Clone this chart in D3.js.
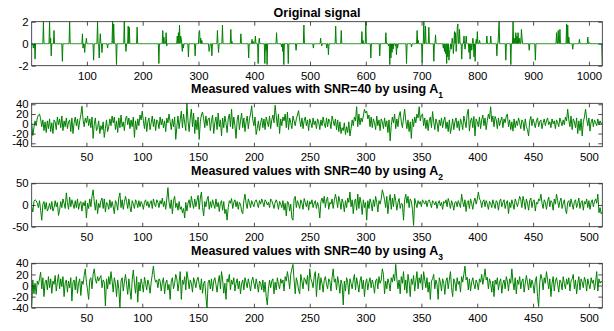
<!DOCTYPE html>
<html>
<head>
<meta charset="utf-8">
<script src="https://cdn.jsdelivr.net/npm/d3@7"></script>
<style>
body { margin: 0; background: #fff; }
svg { display: block; }
text { font-family: "Liberation Sans", Arial, Helvetica, sans-serif; fill: #000; }
</style>
</head>
<body>
<div id="chart"></div>
<script>
// original sparse signal: positions and values of the non-zero entries (length 1024)
var signalLength = 1024;
var spikeIdx = [4, 7, 22, 33, 35, 36, 41, 56, 69, 92, 93, 96, 99, 112, 119, 122, 124, 127, 137, 146, 148, 153, 167, 170, 174, 176, 190,
    229, 236, 238, 242, 243, 262, 264, 266, 268, 269, 271, 273, 282, 294, 301, 302, 304, 306, 319, 320, 324, 334, 336, 343, 358, 360, 376, 390, 396, 398,
    402, 407, 409, 419, 421, 423, 440, 449, 451, 453, 461, 475, 489, 506, 519, 521, 530, 533, 546, 556, 593, 595,
    600, 609, 625, 636, 641, 643, 645, 647, 649, 653, 655, 657, 673, 682, 692, 694,
    701, 704, 707, 713, 722, 725, 739, 741, 743, 745, 747, 749, 750, 751, 753, 755, 757, 759, 761, 762, 764, 765, 768, 772, 776, 778, 780, 785, 787, 790, 792, 794, 796, 798,
    800, 804, 817, 824, 835, 838, 839, 851, 860, 864, 866, 869, 871, 873, 876, 879, 880, 893,
    904, 942, 945, 948, 960, 962, 964, 971, 983, 998, 1001, 1024];
var spikeVal = [-0.4, -1.4, 2, 2, 0.5, -1.1, 1.2, -1.6, 2, 0.9, -0.4, -0.8, 0.5, -1.5, 2, -1.3, 0.9, -0.8, -0.4, 2, 1.8, -1.9, 2, -0.7, 1.6, 1.5, 1.5,
    -1.8, 1.2, 0.6, 1.0, -0.2, 0.7, 1.0, 1.7, 0.7, 0.5, -0.7, -0.4, -1.2, -1.1, 1.1, 1.2, 0.5, 0.3, -0.7, -0.5, -1.1, 1.2, -0.8, 1.7, 1.3, 0.2, 0.9, -1.3, 0.4, 0.2,
    0.7, -1.8, 0.5, -1.8, -0.6, -1.9, 1.0, -0.3, -0.7, -1.9, -1.8, -0.6, 1.7, -0.4, 0.5, -0.2, -0.4, -1.0, 1.6, 1.2, 1.1, 0.3,
    2, -1.3, -1.1, 1.0, -0.2, -1.9, -1.3, -0.8, -0.5, -0.2, -1.0, -0.4, -1.8, -0.3, 1.2, 0.3,
    -1.7, 2, 1.6, 1.5, -1.6, 0.8, -0.4, -0.7, -0.9, -1.8, -1.2, -1.5, -0.9, -0.5, -0.5, 0.5, -0.9, 1.1, 1.0, -0.7, 1.5, 1.8, 1.3, -1.4, 0.7, -0.5, 0.7, -0.8, -1.4, -0.6, 0.5, -1.2, -1.6, 0.4,
    1.1, 0.3, 0.7, 0.7, -1.1, 1.0, 2, -1.5, -1.9, 2, 0.5, 1.0, 0.7, 1.0, 0.5, 1.3, 0.6, -0.6,
    -1.5, 1.0, 1.2, 1.3, 1.8, 1.7, 0.6, -0.5, 0.4, 0.6, 0.1, -2];

// measured values (length 512) for the three sensing matrices
var measuredA1 = [
    0, -24, -8, 6, -4, 12, 18, 20, 10, -6, 8, -14, 4, -18, 6, -10,
    10, -16, 2, -20, 8, 4, -12, 14, -2, 10, -8, 16, -14, 6, -6, 12,
    -10, 4, 8, -16, 12, -20, 2, 14, -4, 10, -12, 6, 18, 36, 8, -6,
    12, 2, 16, -4, 10, -8, 14, -30, -2, 12, -14, -8, 6, -20, -4, -12,
    4, -28, -10, 8, -16, -6, 10, -4, 16, 2, 14, -12, 6, -18, 12, -8,
    18, -6, 4, -14, 10, 16, -2, 12, -10, 8, -6, 14, -28, 6, -12, 10,
    -4, 18, 8, 26, 6, -10, 14, -16, 4, 12, -12, 2, 16, -6, 10, -14,
    8, 4, -10, 14, -2, 10, -8, 6, -16, 12, 2, 20, 4, -12, 10, -6,
    14, -32, -6, 16, -10, 8, 26, -8, 20, 2, -14, 42, 6, -16, 12, 30,
    -6, 22, -20, 8, -12, 14, -32, 4, 18, 24, 10, -8, 16, -4, 10, 12,
    -14, 6, 18, -20, 2, 14, -12, 22, -6, 8, -25, 12, -8, 16, 2, -18,
    10, 20, -6, 30, -10, 14, -4, -30, 8, 18, -12, 6, 22, -8, 12, -16,
    4, 16, -10, 10, 20, 37, 8, -4, 14, -22, -10, 6, -14, 2, 12, -8,
    10, -12, 14, 4, -6, 16, -10, 8, 18, 2, 38, 16, -6, 20, -20, 10,
    -4, 14, 6, 20, -8, 24, -12, 12, 2, -10, 16, 6, -4, 10, 18, 27,
    8, -6, 12, -10, 6, 14, -4, 8, -14, 10, 2, -8, 12, -2, 6, -10,
    10, 4, -12, 8, -4, 14, 0, -8, 12, -6, 10, 4, -10, 16, 6, -4,
    10, -12, 8, -16, 4, -20, -8, -14, 2, -22, -6, -18, 4, -25, -10, 8,
    -4, 14, 6, 35, -6, 20, -2, 12, 4, 16, 30, 22, 26, 10, 18, -6,
    14, -8, 10, 2, -12, 16, -4, 8, -14, 10, 4, -10, 12, -6, 6, -18,
    8, -35, -4, 14, 2, 20, -10, 10, -6, 16, 25, 4, -8, 12, 30, 6,
    -10, 8, -16, 4, -30, 10, -6, 14, 2, 20, 12, 35, 6, 18, 20, -4,
    12, -10, 8, -14, 6, 14, -8, 25, 4, -12, 10, 2, -16, 8, -4, 12,
    -8, 6, 14, -10, 4, -16, 8, -20, -6, 10, -12, 4, 12, -8, 6, -14,
    10, 2, -12, 16, 4, -8, 20, 30, -15, 6, 12, -8, 15, -25, 10, 4,
    -6, 14, -10, 8, 18, -4, 12, -12, 6, 20, 10, 35, 4, 16, -6, 15,
    8, -10, 12, -4, 6, 14, -8, 10, 2, 16, 20, -6, 8, -12, 4, -15,
    10, -8, 6, -4, 12, 2, -10, 8, 4, -14, 10, -6, -12, -25, 6, 15,
    -4, 10, 2, -8, 6, 12, -6, 4, 8, -10, 2, 10, -4, 6, 12, -2,
    4, -8, 10, 0, 6, -10, 8, 2, -6, 12, 4, -4, 8, -2, 14, 6,
    30, 8, -6, 16, -12, 10, 4, -8, 12, -20, 6, -14, 10, -25, 4, 14,
    30, 10, -4, 12, -15, 4, 10, -6, 8, 2, -4, 10, -2, 6, 0, 3];

var measuredA2 = [
    -4, -16, 8, 12, 10, 4, -6, 10, -12, -35, 2, 8, -10, 6, -14, -8,
    4, -10, 8, -14, -6, 10, -4, 6, -24, -12, 8, -6, 14, 4, -8, 28,
    6, -10, 18, -4, 12, 2, -8, 10, -6, 14, -10, 4, 8, -14, 6, -2,
    10, -30, 4, -8, 14, -4, 20, 35, 8, -12, 12, -20, 4, -6, 10, 16,
    -8, 14, -16, 6, 2, -10, 12, -6, 8, -4, -20, 10, 4, -12, 16, 28,
    -6, 12, -10, 6, 20, 8, -8, 14, -4, -16, 10, 2, -8, 12, 6, -6,
    10, -4, 8, 2, -10, 6, 12, -2, 8, -6, 4, 10, -8, 14, 2, -4,
    12, 6, -6, 10, 2, 16, -4, 8, -10, 14, 40, 6, -8, 12, -20, 10,
    20, -6, 4, -12, 8, -10, -4, -18, -8, -30, 6, -14, 4, 12, -6, 20,
    4, -8, 14, -4, 10, 22, -10, 16, 30, -6, -25, 8, -4, 12, 20, -10,
    8, -6, 12, 2, -8, 14, -4, 6, -15, 4, 10, -12, 8, -20, -10, -35,
    -6, 10, 4, 15, -8, 6, 12, -4, 8, -10, 6, 2, -14, -20, 10, 25,
    4, -8, 14, 6, -6, 10, 2, -4, 8, 12, 4, -6, 10, 2, 14, 6,
    -4, 12, 8, 0, 6, -6, 14, 10, 2, -8, 6, 12, 4, -10, 8, 2,
    -6, 10, -12, 4, -25, 8, 6, -14, 2, -30, -35, 14, 20, -6, 10, 2,
    -8, 12, 4, -10, 15, 6, -4, 10, -12, 8, 2, 12, -6, 4, 10, -8,
    6, -4, -30, 8, 16, 4, 20, -6, 12, 18, -10, 6, 2, 14, -8, 10,
    25, 12, -6, 20, 8, -10, 14, 4, -16, 10, -6, 16, 6, 30, -4, 12,
    -20, 8, 14, -12, 25, -8, 18, 4, -22, 12, -6, 6, -35, 10, -8, 14,
    4, -14, 12, -4, 20, 6, -16, 10, 2, 14, 35, 25, 12, -6, 20, -20,
    8, 24, -10, 16, -4, 25, 10, -12, 6, 15, -8, 4, 2, -35, 12, 25,
    4, 20, -6, 14, 8, -10, -47, 15, 4, -6, 10, 2, 8, -4, 12, 6,
    2, 10, -4, 8, 12, 4, -6, 10, 6, 0, 8, -8, 4, 10, -2, 6,
    -10, 8, 4, 12, -4, 15, 6, -8, 10, 2, -12, 6, 8, -4, 10, 2,
    -6, 25, 8, -4, 12, -15, 6, 10, -8, 14, 4, -10, 8, 16, 2, 12,
    30, 14, 10, -6, 8, 12, -4, 10, 2, -10, 8, 4, -6, 12, 2, -8,
    10, 6, -12, 8, 14, -4, 6, 12, -8, 4, 10, -20, 6, -6, 12, 2,
    -10, 14, 6, -4, 8, 20, 12, -6, 20, 8, -10, 14, 4, -12, 10, 16,
    -6, 8, 12, -14, 6, 2, 14, 10, 25, 4, -8, 12, 6, -10, 8, 18,
    -4, 10, 6, -12, 14, 2, 25, 10, -6, 8, 16, -8, 4, 12, -10, -20,
    6, 10, -4, 14, 2, -10, 8, 12, -6, 4, 16, -8, 6, 10, -12, 8,
    2, 14, -6, 10, -10, 6, 12, -4, 8, 14, 4, 25, -18, -6, -20, -15];

var measuredA3 = [
    -38, 10, -15, 4, -16, 8, 2, 12, 24, -6, 14, -20, 6, 10, -8, 16,
    -4, 12, -14, 8, 2, 18, -10, 6, 20, -6, 12, -2, 16, -20, 4, 10,
    -12, 8, -4, 14, -28, 6, 10, -8, 16, -14, 4, 12, -18, 8, 2, 18,
    30, 6, -8, -25, 10, 14, -6, 20, 30, 12, 4, 16, 8, 14, 18, -4,
    10, 6, -37, 12, -6, 16, 2, 25, 8, -12, 14, 4, -20, 10, -6, -40,
    8, 14, -10, 6, 20, 2, -16, 12, -8, -25, 10, 28, 4, -14, 16, -30,
    6, -10, 12, 2, -12, 15, 4, -8, 10, 2, -14, 6, 20, 35, 14, 6,
    10, -4, 12, 8, -10, 6, 14, -15, 4, 10, -8, 2, -25, 8, 14, -6,
    4, 20, 12, -10, 6, 25, -25, 10, 2, 16, -8, 25, 12, -6, 10, 4,
    -12, 14, 6, -4, 10, 15, 2, -8, 12, -14, 4, 8, -20, -40, 6, 10,
    -6, 12, -10, 8, 14, 2, -12, 6, 18, -6, 25, 10, -14, 4, -25, 12,
    6, 20, -8, 10, 2, 14, -10, 4, 12, -6, 8, -15, 4, 10, -8, 14,
    6, -4, 12, 2, -10, 8, 15, 4, -6, 12, 2, -12, 8, 4, -8, 10,
    -12, 6, -20, -35, -6, 10, -4, 8, 12, -15, 6, -8, 14, 2, -6, 12,
    4, 10, -10, 16, 8, 25, 12, -6, 20, 30, 38, 10, -15, 14, 6, -8,
    -15, 20, 8, -6, 14, 10, 2, 18, -10, 30, 12, 6, -4, 16, 25, -20,
    10, 22, -8, 14, 4, -12, 10, 16, 2, -6, 12, 8, -10, 14, 30, 6,
    12, -8, 16, 4, -14, 10, 2, -35, 8, -10, 14, 6, -16, 12, 4, -6,
    10, 20, -8, 14, 2, -12, 8, 16, -6, 10, -20, 4, 12, -8, 6, 14,
    -4, 10, 2, -14, 8, 12, -6, 16, 4, 10, 30, 20, -15, 8, -6, 12,
    4, -10, 14, 6, 20, 8, 38, 12, -6, 10, -15, 16, 4, 25, -8, 10,
    -14, 20, 6, -20, 12, 2, 18, -10, 8, 25, -6, 14, 4, 20, -8, 25,
    10, -4, 14, -12, 6, -25, 8, 12, 20, -6, 10, 2, -25, 14, 6, -10,
    12, 4, -16, 8, 14, -6, 10, 25, -4, -20, 12, 6, -10, 14, 2, 8,
    -12, 16, 6, 20, 35, 10, 15, -8, 12, -10, 6, 14, 2, -6, 10, 4,
    -8, 12, 6, 20, 2, 14, 30, 10, 15, -6, 12, 4, -12, 8, -20, 10,
    2, 14, -8, 6, 12, -14, 4, 10, -6, 16, 8, -10, 12, 4, 30, 6,
    -8, 14, -15, 10, 2, 16, -6, 8, 12, -12, 4, 18, 6, -8, 12, -4,
    10, 2, -14, 8, 16, -20, -38, 6, 20, 12, -8, 14, 4, 25, 10, -6,
    12, -20, 4, 16, -10, 8, 14, 2, -12, 10, 6, -8, 16, 4, -6, 12,
    2, 14, -10, 8, 12, 20, -6, 10, -15, 4, 16, -8, 12, 6, -4, 15,
    8, -10, 12, 2, -6, 14, 4, 10, -8, 6, 25, -10, 12, 4, 8, 5];

// tick labels
var xTicksOriginal = [100, 200, 300, 400, 500, 600, 700, 800, 900, 1000];
var xTicksMeasured = [50, 100, 150, 200, 250, 300, 350, 400, 450, 500];
var yTicksOriginal = [-2, 0, 2];
var yTicksA1 = [-40, -20, 0, 20, 40];
var yTicksA2 = [-50, 0, 50];
var yTicksA3 = [-40, -20, 0, 20, 40];

// build the full original signal from the spike list
var original = new Array(signalLength);
for (var k = 0; k < signalLength; k++) original[k] = 0;
spikeIdx.forEach(function (p, j) { original[p - 1] = spikeVal[j]; });

var W = 614, H = 331;
var left = 31.7, right = 602.3;
var lineColor = "#008000";
var plainNum = function (d) { return String(d); }; // keep ascii hyphen, no thousands comma

var svg = d3.select("#chart").append("svg")
    .attr("width", W)
    .attr("height", H);

var panels = [
    { top: 21.7, bottom: 65.7, titleY: 16.5, data: original, yDomain: [-2, 2], xTicks: xTicksOriginal, yTicks: yTicksOriginal, title: "Original signal", sub: null },
    { top: 103.3, bottom: 146.7, titleY: 93, data: measuredA1, yDomain: [-47, 42], xTicks: xTicksMeasured, yTicks: yTicksA1, title: "Measured values with SNR=40 by using A", sub: "1" },
    { top: 183.3, bottom: 226.7, titleY: 174.7, data: measuredA2, yDomain: [-50, 50], xTicks: xTicksMeasured, yTicks: yTicksA2, title: "Measured values with SNR=40 by using A", sub: "2" },
    { top: 263.3, bottom: 307.7, titleY: 254.7, data: measuredA3, yDomain: [-40, 40], xTicks: xTicksMeasured, yTicks: yTicksA3, title: "Measured values with SNR=40 by using A", sub: "3" }
];

panels.forEach(drawPanel);

function drawPanel(p, n) {
    var g = svg.append("g").attr("class", "panel");
    var x = d3.scaleLinear().domain([1, p.data.length]).range([left, right]);
    var y = d3.scaleLinear().domain(p.yDomain).range([p.bottom, p.top]);

    g.append("clipPath").attr("id", "clip" + n)
        .append("rect")
        .attr("x", left).attr("y", p.top - 1)
        .attr("width", right - left).attr("height", p.bottom - p.top + 2);

    var line = d3.line()
        .x(function (d, i) { return x(i + 1); })
        .y(function (d) { return y(d); });

    g.append("path")
        .datum(p.data)
        .attr("clip-path", "url(#clip" + n + ")")
        .attr("d", line)
        .attr("fill", "none")
        .attr("stroke", lineColor)
        .attr("stroke-width", 1)
        .attr("stroke-linejoin", "round");

    // MATLAB style inward ticks on all four sides
    var tick = -4;
    g.append("g").attr("transform", "translate(0," + p.bottom + ")")
        .call(d3.axisBottom(x).tickValues(p.xTicks).tickSize(tick).tickPadding(6).tickFormat(plainNum));
    g.append("g").attr("transform", "translate(0," + p.top + ")")
        .call(d3.axisTop(x).tickValues(p.xTicks).tickSize(tick).tickFormat(""));
    g.append("g").attr("transform", "translate(" + left + ",0)")
        .call(d3.axisLeft(y).tickValues(p.yTicks).tickSize(tick).tickPadding(3).tickFormat(plainNum));
    g.append("g").attr("transform", "translate(" + right + ",0)")
        .call(d3.axisRight(y).tickValues(p.yTicks).tickSize(tick).tickFormat(""));

    g.selectAll(".domain").remove();
    g.selectAll(".tick line").attr("stroke", "#222").attr("stroke-width", 0.8);
    g.selectAll(".tick text")
        .style("font-family", "'Liberation Sans', Arial, sans-serif")
        .style("font-size", "11.4px")
        .attr("fill", "#000");

    g.append("rect")
        .attr("x", left).attr("y", p.top)
        .attr("width", right - left).attr("height", p.bottom - p.top)
        .attr("fill", "none")
        .attr("stroke", "#222")
        .attr("stroke-width", 0.8);

    var t = g.append("text")
        .attr("x", (left + right) / 2)
        .attr("y", p.titleY)
        .attr("text-anchor", "middle")
        .style("font-size", "12.5px")
        .style("font-weight", "bold")
        .text(p.title);
    if (p.sub) {
        t.append("tspan")
            .attr("dy", 5)
            .style("font-size", "8.5px")
            .text(p.sub);
    }
}
</script>
</body>
</html>
